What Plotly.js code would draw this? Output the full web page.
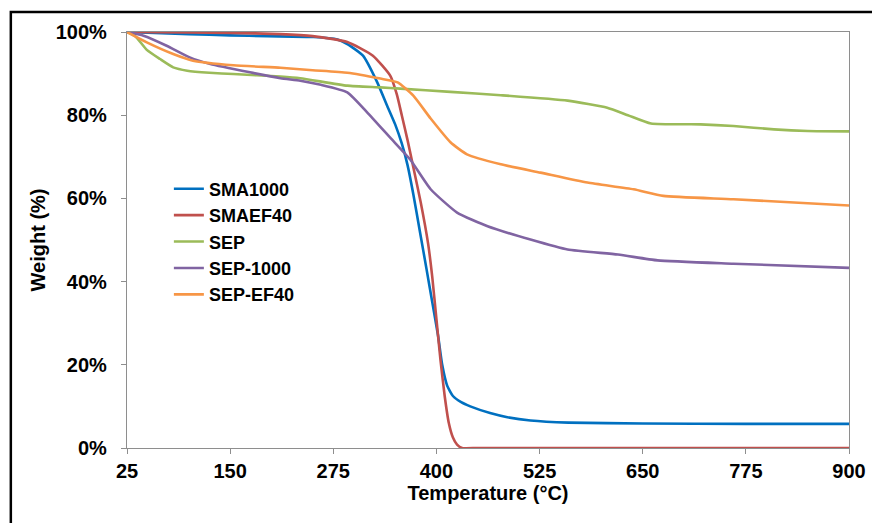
<!DOCTYPE html>
<html>
<head>
<meta charset="utf-8">
<script src="https://cdn.plot.ly/plotly-3.0.1.min.js"></script>
<style>
html,body{margin:0;padding:0;background:#fff;}
#chart{width:872px;height:523px;}
</style>
</head>
<body>
<div id="chart"></div>
<script>
// Series names
const seriesNames = ['SMA1000', 'SMAEF40', 'SEP', 'SEP-1000', 'SEP-EF40'];

// SMA1000 (temperature °C, weight %)
const sma1000T = [25, 100, 150, 195, 251, 280, 292, 311, 328, 340, 350, 358, 365, 372, 380, 388, 395, 402, 407, 413, 420, 430, 441, 465, 486, 514, 560, 650, 775, 900];
const sma1000W = [100, 99.5, 99.2, 99.0, 98.8, 98.2, 97.1, 94.3, 88, 82.4, 77.8, 73.2, 68, 61, 52, 43, 35, 27, 20, 15, 12.5, 11, 10, 8.4, 7.4, 6.6, 6.1, 5.9, 5.8, 5.8];

// SMAEF40
const smaef40T = [25, 100, 150, 211, 250, 292, 323, 344, 352, 358, 365, 372, 381, 390, 395, 400, 405, 410, 415, 420, 425, 431, 450, 600, 900];
const smaef40W = [100, 99.9, 99.8, 99.5, 99.0, 97.6, 94.3, 89.5, 85, 80, 74, 67.5, 59, 49, 41, 31, 21, 12.5, 6, 2.5, 0.8, 0, 0, 0, 0];

// SEP
const sepT = [25, 35, 49, 65, 81, 98, 125, 154, 211, 235, 292, 332, 356, 417, 478, 559, 607, 632, 660, 720, 760, 809, 850, 900];
const sepW = [100, 99, 95.7, 93.5, 91.5, 90.7, 90.2, 89.9, 89.3, 88.9, 87.1, 86.7, 86.4, 85.6, 84.8, 83.5, 81.8, 80, 78.0, 77.8, 77.4, 76.6, 76.2, 76.1];

// SEP-1000
const sep1000T = [25, 45, 73, 101, 126, 174, 211, 235, 260, 292, 316, 344, 368, 393, 425, 462, 514, 559, 620, 668, 760, 900];
const sep1000W = [100, 99.1, 96.7, 93.9, 92.3, 90.3, 88.9, 88.3, 87.3, 85.5, 80.7, 74.6, 69.4, 62.2, 56.6, 53.3, 50.1, 47.7, 46.5, 45.1, 44.3, 43.3];

// SEP-EF40
const sepef40T = [25, 49, 81, 105, 154, 211, 250, 292, 332, 353, 372, 393, 417, 437, 478, 526, 583, 639, 675, 760, 900];
const sepef40W = [100, 97.5, 94.7, 93.1, 92.0, 91.4, 90.8, 90.2, 88.8, 87.9, 84.7, 79.2, 73.5, 70.6, 68.2, 66.2, 63.8, 62.2, 60.6, 59.8, 58.3];

// Axis ticks
const xTickVals = [25, 150, 275, 400, 525, 650, 775, 900];
const yTickVals = [0, 20, 40, 60, 80, 100];
const yTickText = ['0%', '20%', '40%', '60%', '80%', '100%'];

const colors = ['#0070C0', '#C0504D', '#9BBB59', '#8064A2', '#F79646'];
const xs = [sma1000T, smaef40T, sepT, sep1000T, sepef40T];
const ys = [sma1000W, smaef40W, sepW, sep1000W, sepef40W];

const fontFam = 'Liberation Sans, Arial, sans-serif';

const traces = seriesNames.map((n, i) => ({
  x: xs[i], y: ys[i], name: n, type: 'scatter', mode: 'lines',
  legendgroup: 'g' + i,
  line: {color: colors[i], width: 2.6, shape: 'spline', smoothing: 0.5}
}));

const layout = {
  width: 872, height: 523,
  margin: {l: 127, r: 23, t: 32, b: 75},
  paper_bgcolor: '#fff', plot_bgcolor: '#fff',
  showlegend: true,
  legend: {
    x: 0.058, y: 0.667, xanchor: 'left', yanchor: 'top',
    font: {family: fontFam, size: 18, color: '#000', weight: 'bold'},
    bgcolor: 'rgba(0,0,0,0)', tracegroupgap: 0
  },
  xaxis: {
    range: [25, 900], tickvals: xTickVals, ticktext: xTickVals.map(String),
    showgrid: false, zeroline: false,
    showline: true, linecolor: '#8E8E8E', linewidth: 1.2, mirror: true,
    ticks: 'outside', ticklen: 5, tickcolor: '#8E8E8E',
    tickfont: {family: fontFam, size: 20, color: '#000', weight: 'bold'},
    title: {text: 'Temperature (°C)', font: {family: fontFam, size: 20, color: '#000', weight: 'bold'}, standoff: 3},
    automargin: false
  },
  yaxis: {
    range: [0, 100], tickvals: yTickVals, ticktext: yTickText,
    showgrid: false, zeroline: false,
    showline: true, linecolor: '#8E8E8E', linewidth: 1.2, mirror: true,
    ticks: 'outside', ticklen: 5, tickcolor: '#8E8E8E', ticklabelstandoff: 10,
    tickfont: {family: fontFam, size: 20, color: '#000', weight: 'bold'},
    title: {text: 'Weight (%)', font: {family: fontFam, size: 20, color: '#000', weight: 'bold'}, standoff: 4},
    automargin: false
  },
  shapes: [{
    type: 'rect', xref: 'paper', yref: 'paper',
    x0: -0.1609, x1: 1.06, y0: -0.22, y1: 1.0482,
    line: {color: '#000', width: 2.5}, fillcolor: 'rgba(0,0,0,0)', layer: 'above'
  }]
};

Plotly.newPlot('chart', traces, layout, {displayModeBar: false, staticPlot: true});
</script>
</body>
</html>
